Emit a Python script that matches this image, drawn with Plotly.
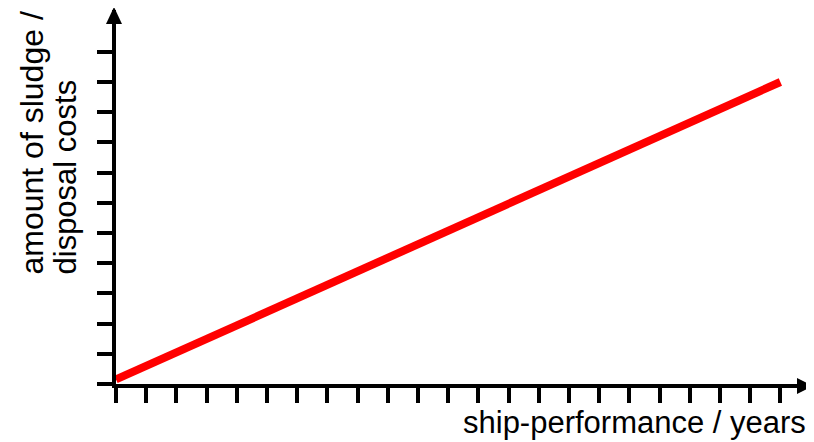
import plotly.graph_objects as go

# data
years = [0, 22]
sludge = [0.15, 10.0]
x_ticks = list(range(0, 23))
y_ticks = list(range(0, 12))
y_title_lines = ["amount of sludge /", "disposal costs"]
x_title = "ship-performance / years"

OFF = 8  # default page body margin
VW, VH = 814, 442
W, H = VW - OFF, VH - OFF
# margins expressed against the viewport (reference) pixels
plot_left, plot_right, plot_top, plot_bottom = 116, 812, 10, 384
L = plot_left - OFF
R = VW - plot_right
T = plot_top - OFF
B = VH - plot_bottom
PW, PH = W - L - R, H - T - B
unit = 30.2
FONT = "Liberation Sans, Arial, sans-serif"


def px(x):
    return (x - plot_left) / PW


def py(y):
    return (plot_bottom - y) / PH


fig = go.Figure()
fig.add_trace(go.Scatter(x=years, y=sludge, mode="lines",
                         line=dict(color="#ff0000", width=8),
                         showlegend=False, hoverinfo="skip"))

axis_common = dict(showgrid=False, zeroline=False, showline=True, linewidth=4,
                   linecolor="black", ticks="outside", ticklen=15, tickwidth=4,
                   tickcolor="black", showticklabels=False, fixedrange=True)
fig.update_xaxes(range=[0, PW / unit], tickmode="array", tickvals=x_ticks, **axis_common)
fig.update_yaxes(range=[0, PH / unit], tickmode="array", tickvals=y_ticks, **axis_common)

ax_x = plot_left - 2    # y-axis line center
ax_y = plot_bottom + 2  # x-axis line center
shapes = [
    dict(type="path", xref="paper", yref="paper", layer="above",
         path=f"M {px(ax_x-8)} {py(24)} L {px(ax_x)} {py(7)} L {px(ax_x+8)} {py(24)} Z",
         fillcolor="black", line=dict(width=0)),
    dict(type="path", xref="paper", yref="paper", layer="above",
         path=f"M {px(797)} {py(ax_y-8)} L {px(813)} {py(ax_y)} L {px(797)} {py(ax_y+8)} Z",
         fillcolor="black", line=dict(width=0)),
]

annotations = [
    dict(text=y_title_lines[0], textangle=-90, xref="paper", yref="paper",
         x=px(31), y=py(277), xanchor="center", yanchor="bottom", showarrow=False,
         font=dict(family=FONT, size=32, color="black")),
    dict(text=y_title_lines[1], textangle=-90, xref="paper", yref="paper",
         x=px(65), y=py(277), xanchor="center", yanchor="bottom", showarrow=False,
         font=dict(family=FONT, size=31, color="black")),
    dict(text=x_title, xref="paper", yref="paper", x=px(808), y=py(442),
         xanchor="right", yanchor="bottom", showarrow=False,
         font=dict(family=FONT, size=31, color="black")),
]

fig.update_layout(width=W, height=H, margin=dict(l=L, r=R, t=T, b=B),
                  plot_bgcolor="white", paper_bgcolor="white",
                  shapes=shapes, annotations=annotations)

fig.write_html("out.html")
